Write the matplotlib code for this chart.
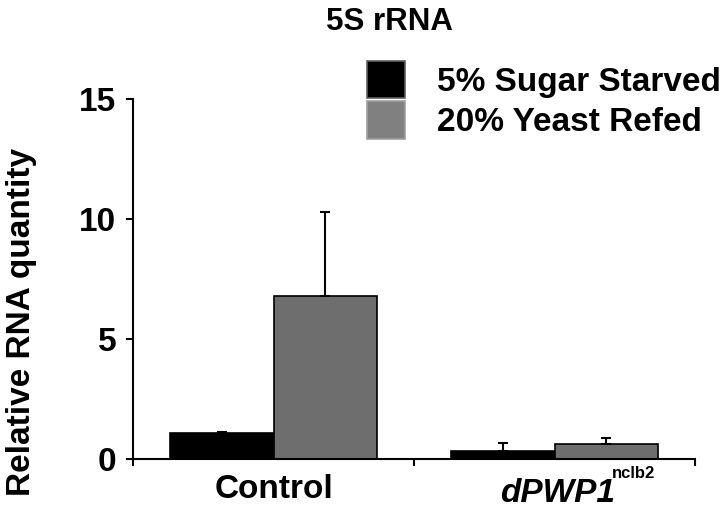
import numpy as np
import matplotlib
matplotlib.use("Agg")
import matplotlib.pyplot as plt
import matplotlib.transforms as mtransforms

# data
groups = ["Control", "dPWP1"]
group_sup = ["", "nclb2"]
series = ["5% Sugar Starved", "20% Yeast Refed"]
starved = [1.08, 0.33]
starved_err = [0.04, 0.34]
refed = [6.8, 0.62]
refed_err = [3.5, 0.25]
yticks = [0, 5, 10, 15]

plt.rcParams["font.family"] = "Liberation Sans"
plt.rcParams["font.weight"] = "bold"

fig = plt.figure(figsize=(7.2, 5.08), dpi=100)
ax = fig.add_axes([133/720, 1-459/508, 562/720, 360/508])

x = np.arange(len(groups))
w = 0.37
b1 = ax.bar(x - w/2, starved, w, color="black", edgecolor="black", lw=1.2,
            label=series[0])
b2 = ax.bar(x + w/2, refed, w, color="#6e6e6e", edgecolor="black", lw=1.2,
            label=series[1])
ax.errorbar(x - w/2, starved, yerr=[np.zeros(2), starved_err], fmt="none",
            ecolor="black", elinewidth=1.5, capsize=3.3, capthick=1.5)
ax.errorbar(x + w/2, refed, yerr=[np.zeros(2), refed_err], fmt="none",
            ecolor="black", elinewidth=1.5, capsize=3.3, capthick=1.5)

ax.set_xlim(-0.5, 1.5)
ax.set_ylim(0, 15)
ax.set_yticks(yticks)
ax.set_xticks(x)
ax.set_xticklabels([groups[0], ""])
ax.set_xticks([-0.5, 0.5, 1.5], minor=True)
ax.tick_params(axis="x", which="major", length=0, pad=11, labelsize=24)
ax.tick_params(axis="x", which="minor", length=5, width=1.5, direction="out")
ax.tick_params(axis="y", length=5, width=1.5, pad=7, labelsize=24)
for s in ["top", "right"]:
    ax.spines[s].set_visible(False)
for s in ["left", "bottom"]:
    ax.spines[s].set_linewidth(1.5)

# gene name in italics with a small superscript allele
trans = mtransforms.blended_transform_factory(ax.transData, ax.transAxes)
ax.text(x[1] + 0.215, -0.119, groups[1], transform=trans, ha="right",
        va="baseline", fontsize=24, fontweight="bold", fontstyle="italic")
ax.text(x[1] + 0.205, -0.053, group_sup[1], transform=trans, ha="left",
        va="baseline", fontsize=12, fontweight="bold")

ax.set_ylabel("Relative RNA quantity", fontsize=24, fontweight="bold")
ax.yaxis.set_label_coords(-0.171, 0.382)

fig.text(390/720, 1-22/508, "5S rRNA", ha="center", va="center",
         fontsize=22.5, fontweight="bold")

leg = ax.legend(loc="upper left", bbox_to_anchor=(367/720, 1-61/508),
                bbox_transform=fig.transFigure, frameon=False, fontsize=24,
                borderpad=0, borderaxespad=0, handlelength=1.14,
                handleheight=1.35, labelspacing=0.08, handletextpad=0.96)
leg.legend_handles[1].set_facecolor("#808080")
leg.legend_handles[1].set_edgecolor("#a0a0a0")
leg.legend_handles[0].set_edgecolor("#606060")

fig.savefig("out.png", dpi=100)
